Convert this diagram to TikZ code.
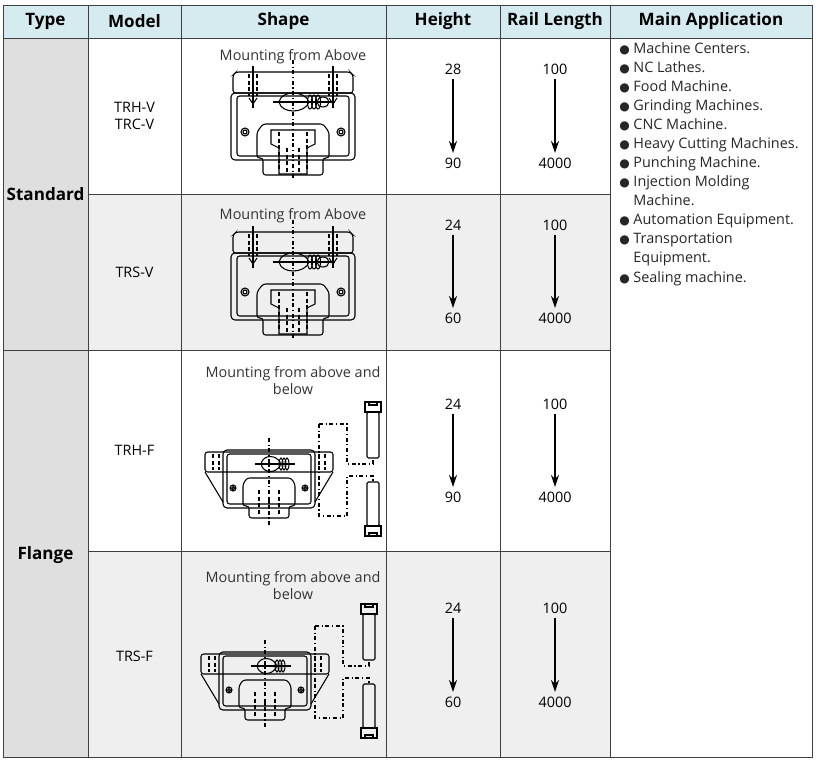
\documentclass[tikz,border=0pt]{standalone}
\usepackage{fontspec}
\setmainfont{Open Sans}
\newfontfamily\symfont{DejaVu Sans}
\usetikzlibrary{arrows.meta}
\definecolor{headblue}{HTML}{D5EBF0}
\definecolor{typegrey}{HTML}{DFDFDF}
\definecolor{rowgrey}{HTML}{EFEFEF}
% slide guide block, mounted from above
\newcommand{\railblockV}[2]{%
  \begin{scope}[shift={(#1,#2)}, line width=0.8pt]
    \draw[rounded corners=2] (-57,0) -- (57,0) -- (60,3) -- (60,21) -- (-60,21) -- (-60,3) -- cycle;
    \draw[rounded corners=3] (-62,21) rectangle (62,88);
    \draw[rounded corners=2] (-56,24) rectangle (56,84);
    \draw[rounded corners=2] (-30,52) -- (30,52) -- (36,60) -- (36,86) -- (30,86) -- (30,103) -- (-30,103) -- (-30,86) -- (-36,86) -- (-36,60) -- cycle;
    \draw (-22,58) -- (22,58) -- (22,72) -- (14,76) -- (14,102) -- (-14,102) -- (-14,76) -- (-22,72) -- cycle;
    \draw[densely dashed] (-14,60) -- (-14,100) (14,60) -- (14,100) (-6,76) -- (-6,100) (6,76) -- (6,100);
    \foreach \s in {-1,1} {
      \draw (\s*48,60) circle (4) (\s*48,60) circle (2);
      \draw[densely dashed] (\s*44,2) -- (\s*44,24) (\s*36,2) -- (\s*36,24);
      \draw (\s*40,-6) -- (\s*40,36);
      \draw (\s*44,26) -- (\s*40,32) -- (\s*36,26);
    }
    \draw (-14,30) .. controls (-12,18) and (12,18) .. (16,30) .. controls (12,42) and (-12,42) .. cycle;
    \foreach \u in {17,21,25} \draw (\u,30) ellipse (2.5 and 7);
    \draw (30,30) ellipse (6 and 5);
    \draw[dash dot] (0,-12) -- (0,106);
    \draw (-20,30) -- (42,30);
  \end{scope}}
% flange block with bolts from above and below
\newcommand{\railblockF}[2]{%
  \begin{scope}[shift={(#1,#2)}, line width=0.8pt]
    \draw[rounded corners=2] (-64,2) rectangle (64,22);
    \draw[rounded corners=3] (-46,0) rectangle (46,58);
    \draw (-64,22) -- (-46,52) (64,22) -- (46,52);
    \draw[rounded corners=2] (-42,4) rectangle (42,54);
    \draw[rounded corners=2] (-22,28) -- (22,28) -- (26,34) -- (26,56) -- (20,56) -- (20,68) -- (-20,68) -- (-20,56) -- (-26,56) -- (-26,34) -- cycle;
    \draw[densely dashed] (-10,40) -- (-10,66) (10,40) -- (10,66) (0,48) -- (0,66);
    \foreach \s in {-1,1} {
      \draw (\s*36,38) circle (3) (\s*36,38) circle (1.5);
      \draw[densely dashed] (\s*56,4) -- (\s*56,20) (\s*50,4) -- (\s*50,20);
    }
    \draw (-8,14) .. controls (-6,4) and (8,4) .. (12,14) .. controls (8,24) and (-6,24) .. cycle;
    \foreach \u in {12,15,18} \draw (\u,14) ellipse (2 and 6);
    \draw[dash dot] (0,-12) -- (0,76);
    \draw (-14,14) -- (26,14);
    \draw[dash dot] (50,-26) -- (78,-26) -- (78,14) -- (104,14) -- (104,8);
    \draw[dash dot] (50,-26) -- (50,32);
    \draw[dash dot] (50,32) -- (50,66) -- (78,66) -- (78,26) -- (104,26) -- (104,32);
    \draw (96,-48) rectangle (112,-38);
    \draw (100,-48) -- (100,-45) -- (108,-45) -- (108,-48);
    \draw[rounded corners=1] (98,-38) rectangle (110,8);
    \draw[rounded corners=1] (98,32) rectangle (110,76);
    \draw (96,76) rectangle (112,86);
    \draw (100,86) -- (100,83) -- (108,83) -- (108,86);
  \end{scope}}
\begin{document}
\begin{tikzpicture}[x=0.75pt, y=-0.75pt,
    font=\fontsize{10.8}{12.8}\selectfont,
    head/.style={font=\fontsize{12.8}{15}\selectfont\bfseries},
    grid/.style={draw=black!75, line width=0.5pt},
    rangearrow/.style={-{Stealth[length=9pt,width=6pt]}, line width=1pt},
    title/.style={align=center, text=black!80}
  ]
  \useasboundingbox (0,0) rectangle (817,760);
  % Fills
  \fill[headblue] (3,5) rectangle (812,38);
  \fill[typegrey] (3,38) rectangle (88,757);
  \fill[rowgrey] (88,194) rectangle (610,350);
  \fill[rowgrey] (88,551) rectangle (610,757);
  % Grid
  \draw[grid] (3,5) rectangle (812,757);
  \draw[grid] (3,38) -- (812,38);
  \foreach \xx in {88,181,386,500,610} \draw[grid] (\xx,5) -- (\xx,757);
  \draw[grid] (3,350) -- (610,350);
  \foreach \yy in {194,551} \draw[grid] (88,\yy) -- (610,\yy);
  % Header
  \node[head] (hType) at (45.5,21) {Type};
  \node[head] (hModel) at (134.5,21) {Model};
  \node[head] (hShape) at (283.5,21) {Shape};
  \node[head] (hHeight) at (443,21) {Height};
  \node[head] (hRail) at (555,21) {Rail Length};
  \node[head] (hApp) at (711,21) {Main Application};
  % Type
  \node[head] (standard) at (45.5,194) {Standard};
  \node[head] (flange) at (45.5,555) {Flange};
  % Models
  \node[align=center] (mA) at (134.5,116) {TRH-V\\TRC-V};
  \node (mB) at (134.5,272) {TRS-V};
  \node (mC) at (134.5,450) {TRH-F};
  \node (mD) at (134.5,656) {TRS-F};
  % Shapes
  \node[title] (sA) at (293,57) {Mounting from Above};
  \railblockV{293}{72}
  \node[title] (sB) at (293,216) {Mounting from Above};
  \railblockV{293}{232}
  \node[title] (sC) at (293,381) {Mounting from above and\\below};
  \railblockF{269}{450}
  \node[title] (sD) at (293,586) {Mounting from above and\\below};
  \railblockF{265}{652}
  % Height and rail length ranges
  \foreach \nm/\ya/\yb/\ha/\hb in {A/69/163/28/90, B/225/318/24/60, C/404/497/24/90, D/608/702/24/60} {
    \node (h\nm top) at (453,\ya) {\ha};
    \node (h\nm bot) at (453,\yb) {\hb};
    \draw[rangearrow] (h\nm top) -- (h\nm bot);
    \node (r\nm top) at (555,\ya) {100};
    \node (r\nm bot) at (555,\yb) {4000};
    \draw[rangearrow] (r\nm top) -- (r\nm bot);
  }
  % Applications
  \node[anchor=north west, align=left, inner sep=0pt, text=black!85,
        font=\fontsize{10.8}{14.3}\selectfont] (apps) at (619,42) {%
    {\symfont\small●} Machine Centers.\\
    {\symfont\small●} NC Lathes.\\
    {\symfont\small●} Food Machine.\\
    {\symfont\small●} Grinding Machines.\\
    {\symfont\small●} CNC Machine.\\
    {\symfont\small●} Heavy Cutting Machines.\\
    {\symfont\small●} Punching Machine.\\
    {\symfont\small●} Injection Molding\\
    \hphantom{{\symfont\small●} }Machine.\\
    {\symfont\small●} Automation Equipment.\\
    {\symfont\small●} Transportation\\
    \hphantom{{\symfont\small●} }Equipment.\\
    {\symfont\small●} Sealing machine.};
\end{tikzpicture}
\end{document}
